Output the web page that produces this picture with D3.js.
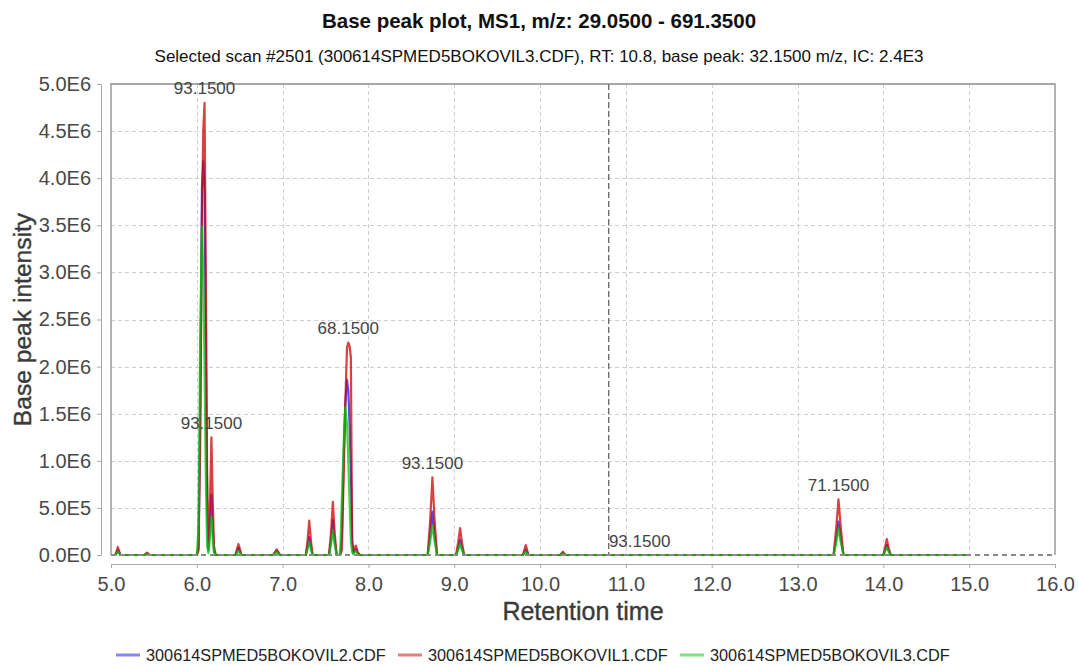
<!DOCTYPE html>
<html>
<head>
<meta charset="utf-8">
<script src="https://cdn.jsdelivr.net/npm/d3@7"></script>
<style>
  body { margin: 0; background: #fff; }
  svg { display: block; font-family: "Liberation Sans", Arial, sans-serif; }
</style>
</head>
<body>
<svg id="chart" width="1078" height="666"></svg>
<script>
// Retention time grid (min) shared by the three base peak traces
const retentionTime = [
  5.00, 5.05, 5.08, 5.11,
  5.39, 5.42, 5.45,
  6.00, 6.02, 6.04, 6.06, 6.075, 6.09, 6.105, 6.12, 6.135, 6.155, 6.17, 6.185, 6.20, 6.22,
  6.45, 6.485, 6.52,
  6.89, 6.93, 6.97,
  7.27, 7.29, 7.31, 7.33, 7.35,
  7.54, 7.565, 7.585, 7.605, 7.63,
  7.67, 7.69, 7.71, 7.73, 7.75, 7.765, 7.78, 7.795, 7.81, 7.825, 7.84, 7.855, 7.875, 7.90,
  8.69, 8.72, 8.745, 8.77, 8.80,
  9.02, 9.045, 9.068, 9.09, 9.115,
  9.80, 9.833, 9.865,
  10.235, 10.265, 10.295,
  13.42, 13.45, 13.477, 13.505, 13.535,
  14.00, 14.02, 14.04, 14.06, 14.085,
  15.00
];

// Base peak intensity per file
const intensityVIL2 = [
  0, 0, 50000, 0,
  0, 15000, 0,
  0, 80000, 1600000, 3900000, 4180000, 3900000, 2200000, 500000, 50000, 350000, 640000, 300000, 50000, 0,
  0, 75000, 0,
  0, 45000, 0,
  0, 80000, 190000, 80000, 0,
  0, 160000, 370000, 160000, 0,
  0, 200000, 1000000, 1600000, 1860000, 1750000, 1400000, 900000, 150000, 20000, 50000, 60000, 20000, 0,
  0, 210000, 460000, 210000, 0,
  0, 70000, 160000, 70000, 0,
  0, 55000, 0,
  0, 20000, 0,
  0, 170000, 355000, 170000, 0,
  0, 50000, 105000, 50000, 0,
  0
];

const intensityVIL1 = [
  0, 0, 85000, 0,
  0, 25000, 0,
  0, 50000, 1200000, 3600000, 4500000, 4800000, 3000000, 900000, 80000, 600000, 1250000, 600000, 100000, 0,
  0, 115000, 0,
  0, 60000, 0,
  0, 150000, 365000, 150000, 0,
  0, 250000, 565000, 250000, 0,
  0, 50000, 800000, 1600000, 2200000, 2255000, 2220000, 2100000, 150000, 30000, 80000, 100000, 30000, 0,
  0, 380000, 825000, 380000, 0,
  0, 130000, 285000, 130000, 0,
  0, 105000, 0,
  0, 35000, 0,
  0, 280000, 590000, 280000, 0,
  0, 80000, 170000, 80000, 0,
  0
];

const intensityVIL3 = [
  0, 0, 35000, 0,
  0, 10000, 0,
  0, 300000, 2400000, 3490000, 3000000, 2000000, 800000, 100000, 20000, 200000, 410000, 200000, 30000, 0,
  0, 45000, 0,
  0, 35000, 0,
  0, 60000, 140000, 60000, 0,
  0, 120000, 265000, 120000, 0,
  0, 600000, 1150000, 1570000, 1400000, 1000000, 550000, 150000, 30000, 10000, 30000, 40000, 10000, 0,
  0, 150000, 320000, 150000, 0,
  0, 50000, 117000, 50000, 0,
  0, 35000, 0,
  0, 15000, 0,
  0, 130000, 283000, 130000, 0,
  0, 40000, 82000, 40000, 0,
  0
];

const seriesNames = ["300614SPMED5BOKOVIL2.CDF", "300614SPMED5BOKOVIL1.CDF", "300614SPMED5BOKOVIL3.CDF"];
const seriesColors = ["#1010ee", "#cc0000", "#00c800"];
const seriesValues = [intensityVIL2, intensityVIL1, intensityVIL3];

// m/z annotations placed over the peaks of the VIL1 trace
const labelRT = [6.09, 6.17, 7.765, 8.745, 11.16, 13.477];
const labelMz = ["93.1500", "93.1500", "68.1500", "93.1500", "93.1500", "71.1500"];

const selectedScanRT = 10.8;

const xTicks = [5, 6, 7, 8, 9, 10, 11, 12, 13, 14, 15, 16];
const yTicks = [0, 500000, 1000000, 1500000, 2000000, 2500000, 3000000, 3500000, 4000000, 4500000, 5000000];

const titleText = "Base peak plot, MS1, m/z: 29.0500 - 691.3500";
const subtitleText = "Selected scan #2501 (300614SPMED5BOKOVIL3.CDF), RT: 10.8, base peak: 32.1500 m/z, IC: 2.4E3";

// ---- layout ----
const plot = { left: 111, right: 1055, top: 84, bottom: 555 };
const svg = d3.select("#chart");

const x = d3.scaleLinear().domain([5, 16]).range([plot.left, plot.right]);
const y = d3.scaleLinear().domain([0, 5000000]).range([plot.bottom, plot.top]);

function sci(v) {
  if (v === 0) return "0.0E0";
  const e = Math.floor(Math.log10(v) + 1e-9);
  return (v / Math.pow(10, e)).toFixed(1) + "E" + e;
}

svg.append("rect").attr("width", 1078).attr("height", 666).attr("fill", "#fff");

// titles
svg.append("text").attr("x", 539).attr("y", 27.5).attr("text-anchor", "middle")
  .attr("font-size", 20.5).attr("font-weight", "bold").attr("fill", "#111").text(titleText);
svg.append("text").attr("x", 539).attr("y", 62).attr("text-anchor", "middle")
  .attr("font-size", 17).attr("fill", "#111").text(subtitleText);

// grid
const grid = svg.append("g").attr("stroke", "#cfcfcf").attr("stroke-width", 1).attr("stroke-dasharray", "4,3");
grid.selectAll("line.v").data(xTicks.filter(t => t > 5 && t < 16)).enter().append("line")
  .attr("x1", d => Math.round(x(d)) + 0.5).attr("x2", d => Math.round(x(d)) + 0.5)
  .attr("y1", plot.top).attr("y2", plot.bottom);
grid.selectAll("line.h").data(yTicks.filter(t => t > 0 && t < 5000000)).enter().append("line")
  .attr("y1", d => Math.round(y(d)) + 0.5).attr("y2", d => Math.round(y(d)) + 0.5)
  .attr("x1", plot.left).attr("x2", plot.right);

// selected scan marker
svg.append("line")
  .attr("x1", x(selectedScanRT)).attr("x2", x(selectedScanRT))
  .attr("y1", plot.top).attr("y2", plot.bottom)
  .attr("stroke", "#555").attr("stroke-width", 1.2).attr("stroke-dasharray", "6,3");

// traces
svg.append("clipPath").attr("id", "plotClip").append("rect")
  .attr("x", plot.left).attr("y", plot.top - 2)
  .attr("width", plot.right - plot.left).attr("height", plot.bottom - plot.top + 4);

const line = d3.line().x(d => x(d[0])).y(d => y(d[1]));
const traces = svg.append("g").attr("clip-path", "url(#plotClip)");
seriesValues.forEach((vals, i) => {
  const pts = retentionTime.map((t, k) => [t, vals[k]]);
  traces.append("path").datum(pts)
    .attr("d", line)
    .attr("fill", "none")
    .attr("stroke", seriesColors[i])
    .attr("stroke-opacity", 0.75)
    .attr("stroke-width", 2.2)
    .attr("stroke-linejoin", "round");
});

// plot outline (bottom edge drawn dashed over the traces)
svg.append("path")
  .attr("d", `M${plot.left},${plot.bottom}V${plot.top}H${plot.right}V${plot.bottom}`)
  .attr("fill", "none").attr("stroke", "#8a8a8a").attr("stroke-width", 1.3);
svg.append("line")
  .attr("x1", plot.left).attr("x2", plot.right).attr("y1", plot.bottom).attr("y2", plot.bottom)
  .attr("stroke", "#8a8a8a").attr("stroke-width", 2).attr("stroke-dasharray", "5,4");

// peak annotations
function labelValue(rt) {
  const k = retentionTime.findIndex(t => Math.abs(t - rt) < 0.005);
  return k >= 0 ? intensityVIL1[k] : 0;
}
svg.append("g").selectAll("text").data(labelRT).enter().append("text")
  .attr("x", d => x(d)).attr("y", d => y(labelValue(d)) - 8.5)
  .attr("text-anchor", "middle").attr("font-size", 17).attr("fill", "#444")
  .text((d, i) => labelMz[i]);

// axes
const yAxis = svg.append("g").attr("transform", "translate(101,0)")
  .call(d3.axisLeft(y).tickValues(yTicks).tickFormat(sci).tickSize(4).tickPadding(6).tickSizeOuter(0));
const xAxis = svg.append("g").attr("transform", "translate(0,564)")
  .call(d3.axisBottom(x).tickValues(xTicks).tickFormat(d => d.toFixed(1)).tickSize(4).tickPadding(9).tickSizeOuter(0));
[yAxis, xAxis].forEach(a => {
  a.select(".domain").attr("stroke", "#a8a8a8");
  a.selectAll(".tick line").attr("stroke", "#a8a8a8");
  a.selectAll(".tick text").attr("fill", "#484848").attr("font-size", 20)
    .attr("font-family", "'Liberation Sans', Arial, sans-serif");
});

svg.append("text").attr("x", (plot.left + plot.right) / 2).attr("y", 620)
  .attr("text-anchor", "middle").attr("font-size", 25).attr("fill", "#3a3a3a")
  .attr("stroke", "#3a3a3a").attr("stroke-width", 0.4).text("Retention time");
svg.append("text").attr("transform", `translate(30.7,${(plot.top + plot.bottom) / 2}) rotate(-90)`)
  .attr("text-anchor", "middle").attr("font-size", 24.6).attr("fill", "#3a3a3a")
  .attr("stroke", "#3a3a3a").attr("stroke-width", 0.4).text("Base peak intensity");

// legend
const legendX = [116, 398, 680];
const legend = svg.append("g");
seriesNames.forEach((name, i) => {
  legend.append("line")
    .attr("x1", legendX[i]).attr("x2", legendX[i] + 24)
    .attr("y1", 655).attr("y2", 655)
    .attr("stroke", seriesColors[i]).attr("stroke-opacity", 0.5).attr("stroke-width", 3);
  legend.append("text")
    .attr("x", legendX[i] + 30).attr("y", 660.8)
    .attr("font-size", 16.3).attr("fill", "#222").text(name);
});
</script>
</body>
</html>
